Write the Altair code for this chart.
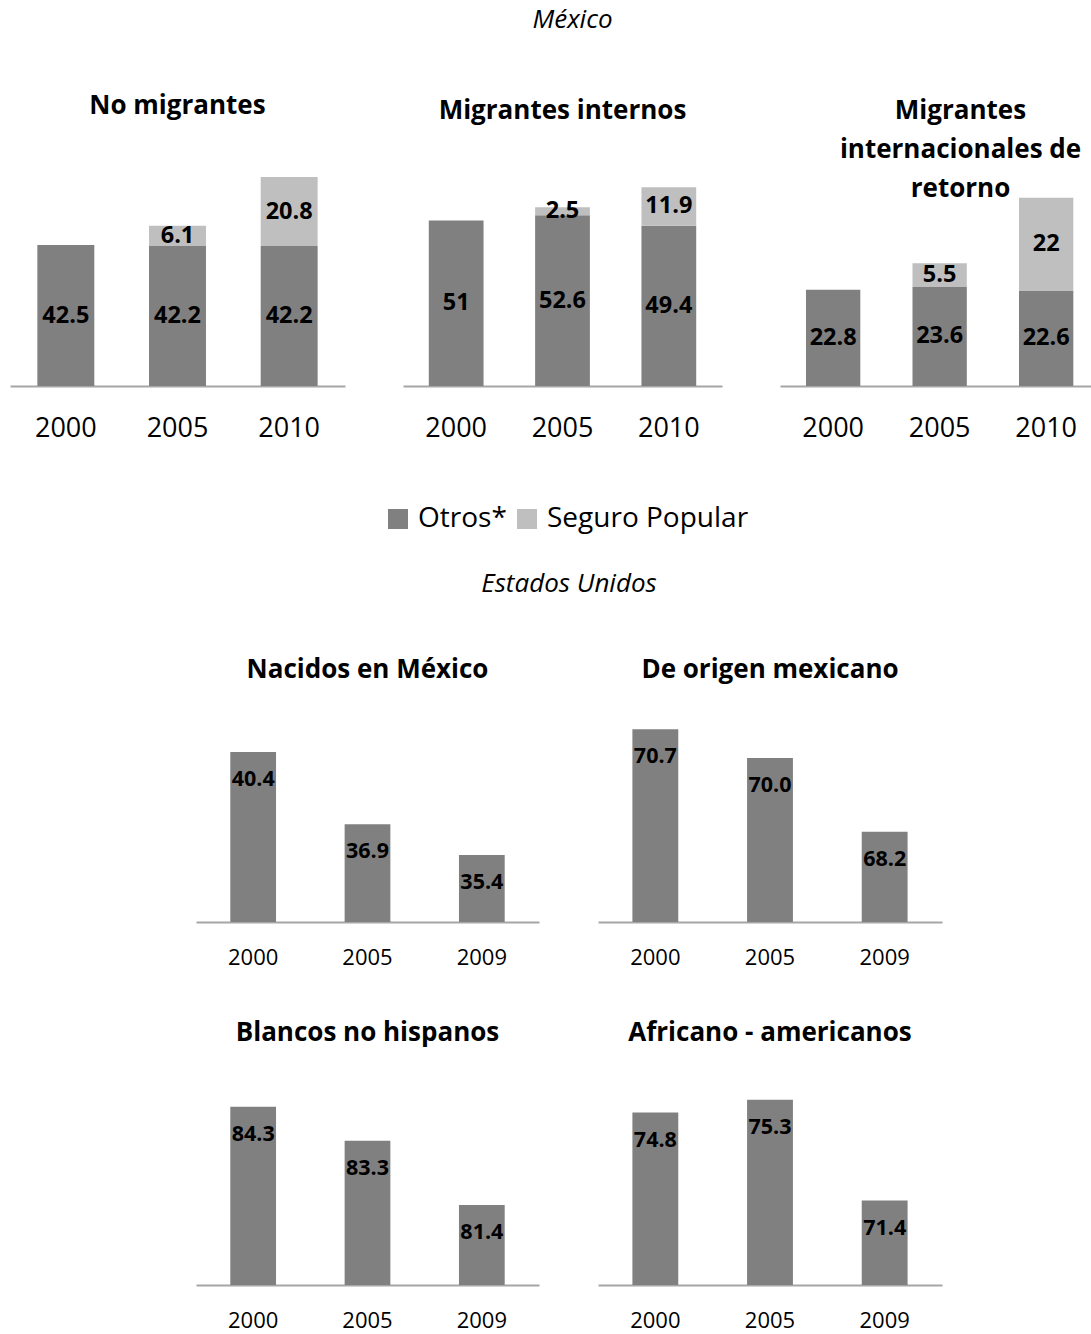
import altair as alt
import pandas as pd

FONT = "Open Sans"

# ---------------- data ----------------
years_mx = ["2000", "2005", "2010"]
series = ["Otros*", "Seguro Popular"]
no_mig_otros = [42.5, 42.2, 42.2]
no_mig_sp = [None, 6.1, 20.8]
int_otros = [51, 52.6, 49.4]
int_sp = [None, 2.5, 11.9]
ret_otros = [22.8, 23.6, 22.6]
ret_sp = [None, 5.5, 22]

years_us = ["2000", "2005", "2009"]
nacidos = [40.4, 36.9, 35.4]
origen = [70.7, 70.0, 68.2]
blancos = [84.3, 83.3, 81.4]
africanos = [74.8, 75.3, 71.4]

C_OTROS = "#808080"
C_SP = "#bfbfbf"
AXIS_GRAY = "#a6a6a6"


def mx_df(otros, sp):
    rows = []
    for y, o, s in zip(years_mx, otros, sp):
        rows.append({"year": y, "serie": series[0], "orden": 0, "valor": o})
        if s is not None:
            rows.append({"year": y, "serie": series[1], "orden": 1, "valor": s})
    df = pd.DataFrame(rows)
    df["etiqueta"] = df["valor"].map(lambda v: f"{v:g}")
    return df


LEGEND = alt.Legend(
    title=None, orient="none", legendX=374, legendY=349, direction="horizontal",
    symbolType="square", symbolSize=400, symbolStrokeWidth=0, symbolOpacity=1,
    labelFontSize=28, labelFont=FONT, labelColor="black", labelLimit=500,
    columnPadding=6, labelOffset=6,
)


def mx_panel(title, otros, sp, width, ymax, pin, pout, align=0.5,
             toffset=50, tdx=0, tdy=0, lineheight=None):
    df = mx_df(otros, sp)
    xscale = alt.Scale(paddingInner=pin, paddingOuter=pout, align=align)
    xaxis = alt.Axis(labelAngle=0, labelFontSize=27, labelPadding=42,
                     labelBaseline="middle", ticks=False, tickSize=0,
                     domainColor=AXIS_GRAY, domainWidth=2, labelOverlap=False,
                     labelColor="black", labelFont=FONT)
    yscale = alt.Scale(domain=[0, ymax], nice=False, zero=True)
    base = alt.Chart(df).encode(
        x=alt.X("year:N", sort=years_mx, title=None, scale=xscale, axis=xaxis)
    )
    bars = base.mark_bar().encode(
        y=alt.Y("valor:Q", stack="zero", scale=yscale, axis=None),
        color=alt.Color("serie:N", scale=alt.Scale(domain=series, range=[C_OTROS, C_SP]),
                        legend=LEGEND),
        order=alt.Order("orden:Q", sort="ascending"),
    )
    text = base.transform_stack(
        stack="valor", as_=["y0", "y1"], groupby=["year"],
        sort=[alt.SortField("orden", order="ascending")],
    ).transform_calculate(
        mid="(datum.y0 + datum.y1) / 2"
    ).mark_text(font=FONT, fontWeight="bold", fontSize=23.5, baseline="middle",
                color="black").encode(
        y=alt.Y("mid:Q", scale=yscale, axis=None),
        text="etiqueta:N",
    )
    tp = dict(text=title, fontSize=26, fontWeight="bold", font=FONT, color="black",
              baseline="middle", anchor="middle", frame="group", offset=toffset,
              dx=tdx, dy=tdy)
    if lineheight:
        tp["lineHeight"] = lineheight
    return alt.layer(bars, text).properties(
        width=width, height=230, title=alt.TitleParams(**tp)
    )


def us_panel(title, vals, ymin, ymax, width=343):
    df = pd.DataFrame({"year": years_us, "valor": vals})
    xscale = alt.Scale(paddingInner=0.6, paddingOuter=0.3)
    xaxis = alt.Axis(labelAngle=0, labelFontSize=22, labelPadding=35,
                     labelBaseline="middle", ticks=False, tickSize=0,
                     domainColor=AXIS_GRAY, domainWidth=2, labelOverlap=False,
                     labelColor="black", labelFont=FONT)
    yscale = alt.Scale(domain=[ymin, ymax], nice=False, zero=False)
    base = alt.Chart(df).encode(
        x=alt.X("year:N", sort=years_us, title=None, scale=xscale, axis=xaxis),
        y=alt.Y("valor:Q", scale=yscale, axis=None),
    )
    bars = base.mark_bar(color=C_OTROS, clip=True)
    text = base.mark_text(font=FONT, fontWeight="bold", fontSize=21.5,
                          baseline="middle", dy=28, color="black").encode(
        text=alt.Text("valor:Q", format=".1f")
    )
    return alt.layer(bars, text).properties(
        width=width, height=205,
        title=alt.TitleParams(text=title, fontSize=26, fontWeight="bold", font=FONT,
                              color="black", baseline="middle", anchor="middle",
                              frame="group", offset=21),
    )


def spacer():
    return alt.Chart(pd.DataFrame({"a": [0]})).mark_point(opacity=0, size=0).properties(
        width=127, height=205
    )


p1 = mx_panel("No migrantes", no_mig_otros, no_mig_sp, 335, 69.34, 0.49, 0.245, toffset=24)
p2 = mx_panel("Migrantes internos", int_otros, int_sp, 319, 70.9, 0.485, 0.2425, toffset=19)
p3 = mx_panel(["Migrantes", "internacionales de", "retorno"], ret_otros, ret_sp, 311, 54.5,
              0.49, 0.205, align=0.595, toffset=0, tdx=25, tdy=59, lineheight=39)

mex_row = alt.hconcat(p1, p2, p3, spacing=58, bounds="flush")

us_row1 = alt.hconcat(
    spacer(),
    us_panel("Nacidos en México", nacidos, 32.15, 42.1),
    us_panel("De origen mexicano", origen, 66.0, 71.0, width=344),
    spacing=59, bounds="flush",
)
us_row2 = alt.hconcat(
    spacer(),
    us_panel("Blancos no hispanos", blancos, 79.04, 85.09),
    us_panel("Africano - americanos", africanos, 68.14, 76.06, width=344),
    spacing=59, bounds="flush",
)

us_block = alt.vconcat(us_row1, us_row2, spacing=363, bounds="flush").properties(
    title=alt.TitleParams(text="Estados Unidos", fontSize=26, fontStyle="italic",
                          fontWeight="normal", font=FONT, color="black",
                          baseline="middle", anchor="middle", offset=47, dx=93)
)

chart = alt.vconcat(mex_row, us_block, spacing=561, bounds="flush").properties(
    title=alt.TitleParams(text="México", fontSize=26, fontStyle="italic",
                          fontWeight="normal", font=FONT, color="black",
                          baseline="middle", anchor="middle", offset=47, dx=22),
    padding={"left": 10, "top": 7, "right": 0, "bottom": 3},
).configure(font=FONT).configure_view(stroke=None).configure_axis(grid=False)

chart.save("out.html", embed_options={"renderer": "svg", "actions": False})
